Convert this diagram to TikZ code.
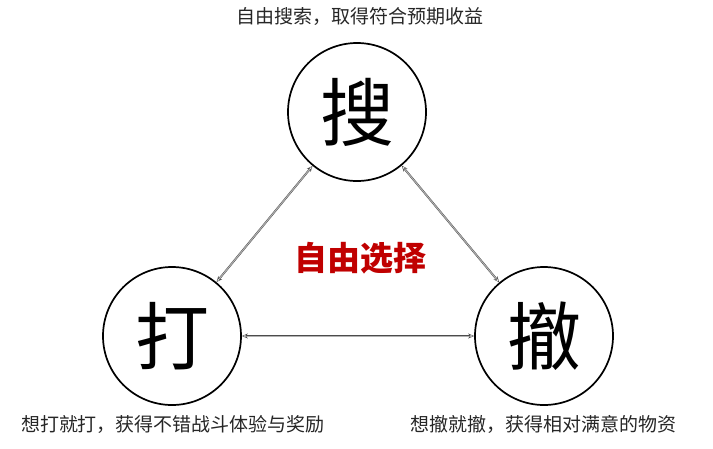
\documentclass[tikz,border=0pt]{standalone}
\usepackage{fontspec}
\setmainfont{Noto Sans CJK SC}
\usetikzlibrary{arrows.meta}
\definecolor{redtxt}{HTML}{C00000}
\begin{document}
\begin{tikzpicture}[x=1pt,y=-1pt,
  bigc/.style={circle,draw=black,line width=1.7pt,minimum size=138pt,inner sep=0pt,font=\fontsize{74}{74}\selectfont},
  lbl/.style={inner sep=0pt,text=black!85,font=\fontsize{19}{19}\selectfont},
  conn/.style={draw=black!70,line width=0.45pt,double=black!30,double distance=1pt,
    {Stealth[length=6pt,width=5pt,open]}-{Stealth[length=6pt,width=5pt,open]}}]
\useasboundingbox (0,0) rectangle (713,448);
\node[bigc] (sou) at (357,112) {搜};
\node[bigc] (da) at (172,336) {打};
\node[bigc] (che) at (544,336) {撤};
\node[lbl] (tsou) at (360,17) {自由搜索，取得符合预期收益};
\node[lbl] (tda) at (173,424) {想打就打，获得不错战斗体验与奖励};
\node[lbl] (tche) at (543,424) {想撤就撤，获得相对满意的物资};
\node[inner sep=0pt,text=redtxt,font=\fontsize{33}{33}\selectfont\bfseries] (mid) at (360,258) {自由选择};
\draw[conn] (sou) -- (da);
\draw[conn] (sou) -- (che);
\draw[conn] (da) -- (che);
\end{tikzpicture}
\end{document}
